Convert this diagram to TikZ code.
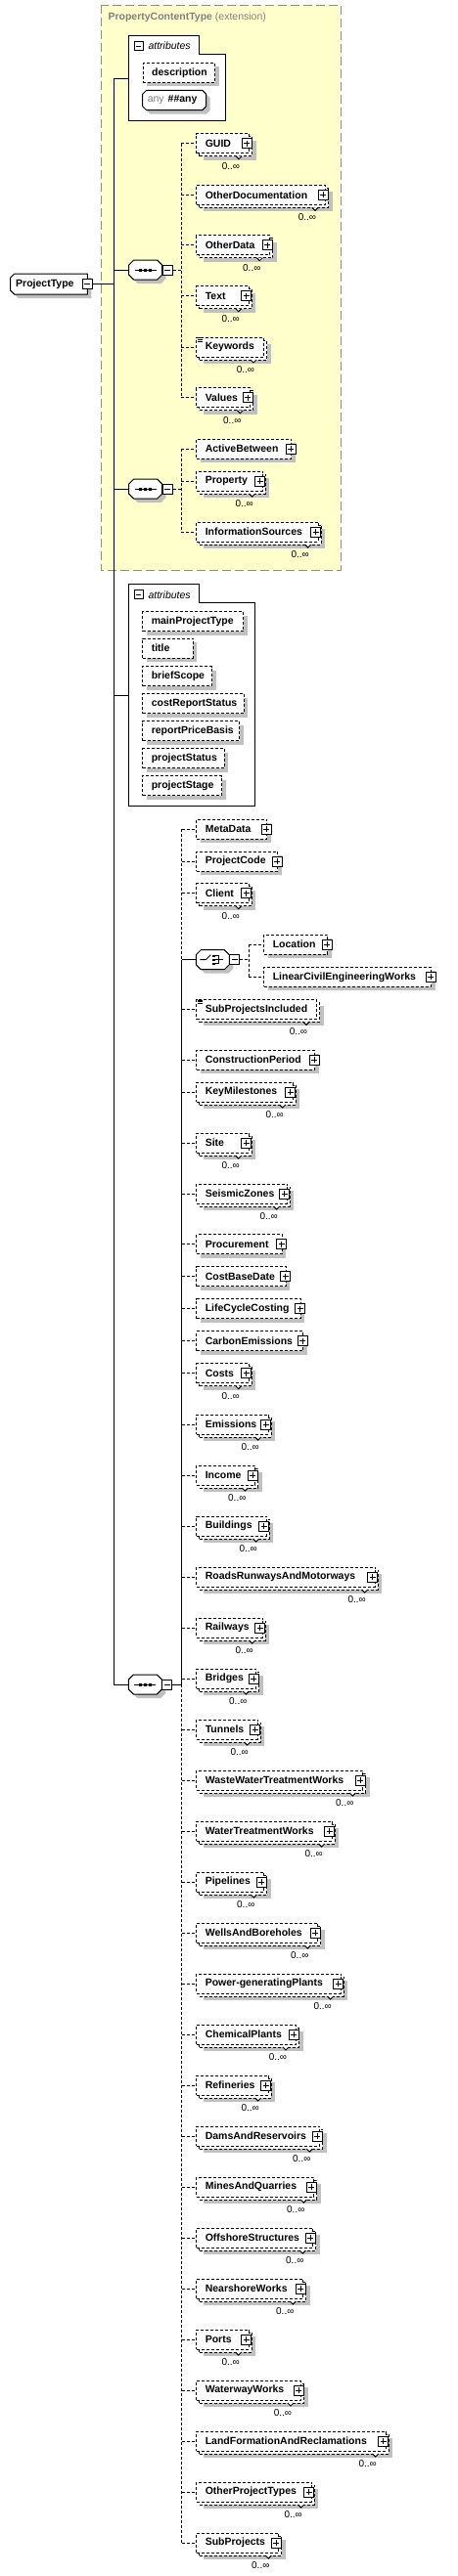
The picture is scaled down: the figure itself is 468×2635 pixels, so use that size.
\documentclass[tikz,border=0pt]{standalone}
\usepackage{fontspec}
\setmainfont{Liberation Sans}
\usetikzlibrary{shadows}

\definecolor{shadowgray}{RGB}{192,192,192}
\definecolor{extfill}{RGB}{255,255,204}
\definecolor{extline}{RGB}{140,140,140}
\definecolor{exttext}{RGB}{128,128,128}

\newcommand{\elemfont}{\fontsize{10.5}{12}\selectfont\bfseries}
\newcommand{\attrfont}{\fontsize{10.5}{12}\selectfont\itshape}
\newcommand{\multfont}{\fontsize{10}{12}\selectfont}

\tikzset{
  elembox/.style={draw, dash pattern=on 3pt off 2pt, fill=white, minimum height=20pt,
    inner xsep=9pt, inner ysep=0pt, anchor=west, align=left, font=\elemfont},
  shadowed/.style={general shadow={fill=shadowgray, shadow xshift=4pt, shadow yshift=-4pt}},
  plusbox/.style={draw, solid, fill=white, minimum size=10pt, inner sep=0pt,
    path picture={
      \draw[line width=1pt] ([xshift=2pt]path picture bounding box.west) -- ([xshift=-2pt]path picture bounding box.east);
      \draw[line width=1pt] ([yshift=-2pt]path picture bounding box.north) -- ([yshift=2pt]path picture bounding box.south);}},
  minusbox/.style={draw, solid, fill=white, minimum size=10pt, inner sep=0pt,
    path picture={
      \draw[line width=1pt] ([xshift=2pt]path picture bounding box.west) -- ([xshift=-2pt]path picture bounding box.east);}},
  dashconn/.style={dash pattern=on 3pt off 2pt},
  multlabel/.style={font=\multfont, inner sep=0pt},
  notch/.style={solid, fill=white}
}

% single optional element: name, label, left, y, plus centre
\newcommand{\oneelem}[5]{%
  \pgfmathsetmacro{\elemtw}{#5-#3-18}%
  \node[elembox, shadowed, text width=\elemtw pt] (#1) at (#3,#4) {#2};%
  \node[plusbox] (#1-plus) at (#5,#4) {};%
}
% repeated element body: name, label, y, plus centre
\newcommand{\manybody}[4]{%
  \pgfmathsetmacro{\elemw}{#4+2-200.3}%
  \pgfmathsetmacro{\elemtw}{\elemw-18}%
  \node[elembox, shadowed, minimum width=\elemw pt] (#1-back) at (203.3,#3+3) {};%
  \node[elembox, text width=\elemtw pt] (#1) at (200.3,#3) {#2};%
  \draw[notch] (#4-11,#3+13) -- (#4-8,#3+16) -- (#4-5,#3+13);%
  \node[multlabel] (#1-mult) at (#4-16,#3+23) {0..∞};%
}
\newcommand{\manyelem}[4]{\manybody{#1}{#2}{#3}{#4}\node[plusbox] (#1-plus) at (#4,#3) {};}
\newcommand{\manysimple}[4]{\manybody{#1}{#2}{#3}{#4}%
  \draw[solid, line width=0.8pt] (201.7,#3-9.3) -- +(5,0) (201.7,#3-7.7) -- +(5,0) (201.7,#3-6) -- +(5,0);}
% attribute: name, label, left, y, right
\newcommand{\attr}[5]{%
  \pgfmathsetmacro{\elemtw}{#5-#3-18}%
  \node[elembox, shadowed, text width=\elemtw pt] (#1) at (#3,#4) {#2};%
}
% model group octagon: name, cx, cy
\newcommand{\octbox}[3]{%
  \fill[shadowgray, shift={(4,4)}] (#2-17,#3-5) -- (#2-12,#3-10) -- (#2+12,#3-10) -- (#2+17,#3-5)
    -- (#2+17,#3+5) -- (#2+12,#3+10) -- (#2-12,#3+10) -- (#2-17,#3+5) -- cycle;%
  \draw[fill=white] (#2-17,#3-5) -- (#2-12,#3-10) -- (#2+12,#3-10) -- (#2+17,#3-5)
    -- (#2+17,#3+5) -- (#2+12,#3+10) -- (#2-12,#3+10) -- (#2-17,#3+5) -- cycle;%
  \node[inner sep=0pt, minimum width=34pt, minimum height=20pt] (#1) at (#2,#3) {};%
  \node[minusbox] (#1-minus) at (#2+22.3,#3) {};%
}
\newcommand{\seqicon}[2]{%
  \draw (#1-11,#2) -- (#1+11,#2);%
  \foreach \d in {-5,0,5} \fill (#1+\d-1.5,#2-1.5) rectangle +(3,3);%
}

\begin{document}
\begin{tikzpicture}[x=1pt, y=-1pt, line width=1pt]
\useasboundingbox (0,0) rectangle (468,2635);

% extension area
\draw[extline, dash pattern=on 9pt off 4pt, fill=extfill] (103,5.3) rectangle (348,583.3);
\node[anchor=west, inner sep=0pt, text=exttext, font=\elemfont] (exttitle) at (110,18) {PropertyContentType {\mdseries(extension)}};

% root element
\fill[shadowgray, shift={(4,4)}] (10.7,284) -- (14.7,280) -- (89.3,280) -- (89.3,301) -- (14.7,301) -- (10.7,297) -- cycle;
\draw[fill=white] (10.7,284) -- (14.7,280) -- (89.3,280) -- (89.3,301) -- (14.7,301) -- (10.7,297) -- cycle;
\node[anchor=west, inner sep=0pt, font=\elemfont] (projecttype) at (15.7,290.5) {ProjectType};
\node[minusbox] (projecttype-minus) at (89,290.5) {};

% main bus
\coordinate (mainbus-top) at (116.3,80);
\coordinate (mainbus-bottom) at (116.3,1723);
\draw (mainbus-top) -- (mainbus-bottom);
\draw (projecttype-minus.east) -- (projecttype-minus.east -| mainbus-top);

% attributes of the base type
\draw[fill=white] (131.7,123.3) -- (131.7,36) -- (203,36) -- (203,55) -- (230.7,55) -- (230.7,123.3) -- cycle;
\node[minusbox, minimum size=9pt] (attrs1-minus) at (141.5,47.2) {};
\node[anchor=west, inner sep=0pt, font=\attrfont] (attrs1) at (151,47) {attributes};
\coordinate (attrs1-in) at (131.7,80);
\draw (mainbus-top) -- (attrs1-in);
\attr{description}{description}{145.7}{74.3}{219}
\fill[shadowgray, shift={(4,4)}] (145.7,96.3) -- (149.7,92.3) -- (206.7,92.3) -- (210.7,96.3) -- (210.7,108.7) -- (206.7,112.7) -- (149.7,112.7) -- (145.7,108.7) -- cycle;
\draw[fill=white] (145.7,96.3) -- (149.7,92.3) -- (206.7,92.3) -- (210.7,96.3) -- (210.7,108.7) -- (206.7,112.7) -- (149.7,112.7) -- (145.7,108.7) -- cycle;
\node[anchor=west, inner sep=0pt, font=\fontsize{10.5}{12}\selectfont] (anyattr) at (150.3,102.5) {\textcolor{exttext}{any}\hspace{4pt}\textbf{\#\#any}};

% first sequence
\octbox{seq1}{148.7}{276}
\seqicon{148.7}{276}
\coordinate (seq1-bus) at (185.3,276);
\draw (mainbus-top |- seq1.west) -- (seq1.west);
\draw[dashconn] (seq1-minus.east) -- (seq1-bus);
\manyelem{guid}{GUID}{146.7}{252}
\manyelem{otherdocumentation}{OtherDocumentation}{199.3}{330}
\manyelem{otherdata}{OtherData}{250.7}{273.3}
\manyelem{text}{Text}{302.7}{251.7}
\manysimple{keywords}{Keywords}{355}{267}
\manyelem{values}{Values}{406.7}{253.3}
\draw[dashconn] (seq1-bus |- guid.west) -- (seq1-bus |- values.west);
\foreach \n in {guid,otherdocumentation,otherdata,text,keywords,values}
  \draw[dashconn] (seq1-bus |- \n.west) -- (\n.west);

% second sequence
\octbox{seq2}{148.7}{500}
\seqicon{148.7}{500}
\coordinate (seq2-bus) at (185.3,500);
\draw (mainbus-top |- seq2.west) -- (seq2.west);
\draw[dashconn] (seq2-minus.east) -- (seq2-bus);
\oneelem{activebetween}{ActiveBetween}{200.3}{459}{297.3}
\manyelem{property}{Property}{492}{265.7}
\manyelem{informationsources}{InformationSources}{544}{322.7}
\draw[dashconn] (seq2-bus |- activebetween.west) -- (seq2-bus |- informationsources.west);
\foreach \n in {activebetween,property,informationsources}
  \draw[dashconn] (seq2-bus |- \n.west) -- (\n.west);

% attributes of ProjectType
\draw[fill=white] (131.7,824) -- (131.7,597.3) -- (203,597.3) -- (203,616.7) -- (260,616.7) -- (260,824) -- cycle;
\node[minusbox, minimum size=9pt] (attrs2-minus) at (141.5,608) {};
\node[anchor=west, inner sep=0pt, font=\attrfont] (attrs2) at (151,608.3) {attributes};
\coordinate (attrs2-in) at (131.7,711);
\draw (mainbus-top |- attrs2-in) -- (attrs2-in);
\attr{mainprojecttype}{mainProjectType}{145.3}{635.7}{248.3}
\attr{title}{title}{145.3}{663}{196.7}
\attr{briefscope}{briefScope}{145.3}{691.7}{216}
\attr{costreportstatus}{costReportStatus}{145.3}{719.7}{248.7}
\attr{reportpricebasis}{reportPriceBasis}{145.3}{747.7}{244}
\attr{projectstatus}{projectStatus}{145.3}{775.7}{228.7}
\attr{projectstage}{projectStage}{145.3}{803.7}{226}

% main sequence
\octbox{seq3}{148.4}{1723}
\seqicon{148.4}{1723}
\coordinate (seq3-bus) at (185.7,1723);
\draw (mainbus-bottom) -- (seq3.west);
\draw (seq3-minus.east) -- (seq3-bus);

\foreach \n/\l/\y/\p in {metadata/MetaData/848/272.3, projectcode/ProjectCode/881/283.3,
    constructionperiod/ConstructionPeriod/1084/321, procurement/Procurement/1272.7/287.7,
    costbasedate/CostBaseDate/1305.7/291.7, lifecyclecosting/LifeCycleCosting/1338.7/306.7,
    carbonemissions/CarbonEmissions/1371.7/309.3}
  {\oneelem{\n}{\l}{200.3}{\y}{\p}}

\foreach \n/\l/\y/\p in {client/Client/913.7/251.7, keymilestones/KeyMilestones/1117/296.7,
    site/Site/1169/251.7, seismiczones/SeismicZones/1221/290.7, costs/Costs/1404.7/251.7,
    emissions/Emissions/1457/271.7, income/Income/1509/258.3, buildings/Buildings/1561/269.7,
    roads/RoadsRunwaysAndMotorways/1613/380.7, railways/Railways/1665/265.7,
    bridges/Bridges/1717/259.3, tunnels/Tunnels/1769/260.7,
    wastewater/WasteWaterTreatmentWorks/1821/368.3, watertreatment/WaterTreatmentWorks/1873/336.7,
    pipelines/Pipelines/1925/267.3, wells/WellsAndBoreholes/1977/322.3,
    power/Power-generatingPlants/2029/345.7, chemical/ChemicalPlants/2081/300,
    refineries/Refineries/2133/271.7, dams/DamsAndReservoirs/2185/324.3,
    mines/MinesAndQuarries/2237/318.3, offshore/OffshoreStructures/2289/317.3,
    nearshore/NearshoreWorks/2341/307.3, ports/Ports/2393/251.7, waterway/WaterwayWorks/2445/305,
    landformation/LandFormationAndReclamations/2497/391.7,
    otherprojecttypes/OtherProjectTypes/2549/315.7, subprojects/SubProjects/2601/282.3}
  {\manyelem{\n}{\l}{\y}{\p}}

\manysimple{subprojectsincluded}{SubProjectsIncluded}{1032.3}{321}

% choice of location
\octbox{choice1}{217.3}{981.7}
\draw (204.3,981.7) -- (210.3,981.7) -- (215.3,976.7);
\foreach \d in {-4,0,4} \fill (217.3,981.7+\d-1.2) rectangle +(2.5,2.5);
\draw (220,977.7) -- (223.3,977.7) -- (223.3,985.7) -- (220,985.7) (220,981.7) -- (228.3,981.7);
\coordinate (choice1-bus) at (254.3,981.7);
\draw[dashconn] (choice1-minus.east) -- (choice1-bus);
\oneelem{location}{Location}{269.3}{966}{334.3}
\oneelem{linearworks}{LinearCivilEngineeringWorks}{269.3}{999.3}{440}
\draw[dashconn] (choice1-bus |- location.west) -- (choice1-bus |- linearworks.west);
\foreach \n in {location,linearworks}
  \draw[dashconn] (choice1-bus |- \n.west) -- (\n.west);

% bus of the main sequence
\draw[dashconn] (seq3-bus |- metadata.west) -- (seq3-bus |- choice1.west);
\draw (seq3-bus |- choice1.west) -- (seq3-bus);
\draw[dashconn] (seq3-bus) -- (seq3-bus |- subprojects.west);
\draw (seq3-bus |- choice1.west) -- (choice1.west);
\foreach \n in {metadata,projectcode,client,subprojectsincluded,constructionperiod,keymilestones,
    site,seismiczones,procurement,costbasedate,lifecyclecosting,carbonemissions,costs,emissions,
    income,buildings,roads,railways,bridges,tunnels,wastewater,watertreatment,pipelines,wells,
    power,chemical,refineries,dams,mines,offshore,nearshore,ports,waterway,landformation,
    otherprojecttypes,subprojects}
  \draw[dashconn] (seq3-bus |- \n.west) -- (\n.west);
\end{tikzpicture}
\end{document}
